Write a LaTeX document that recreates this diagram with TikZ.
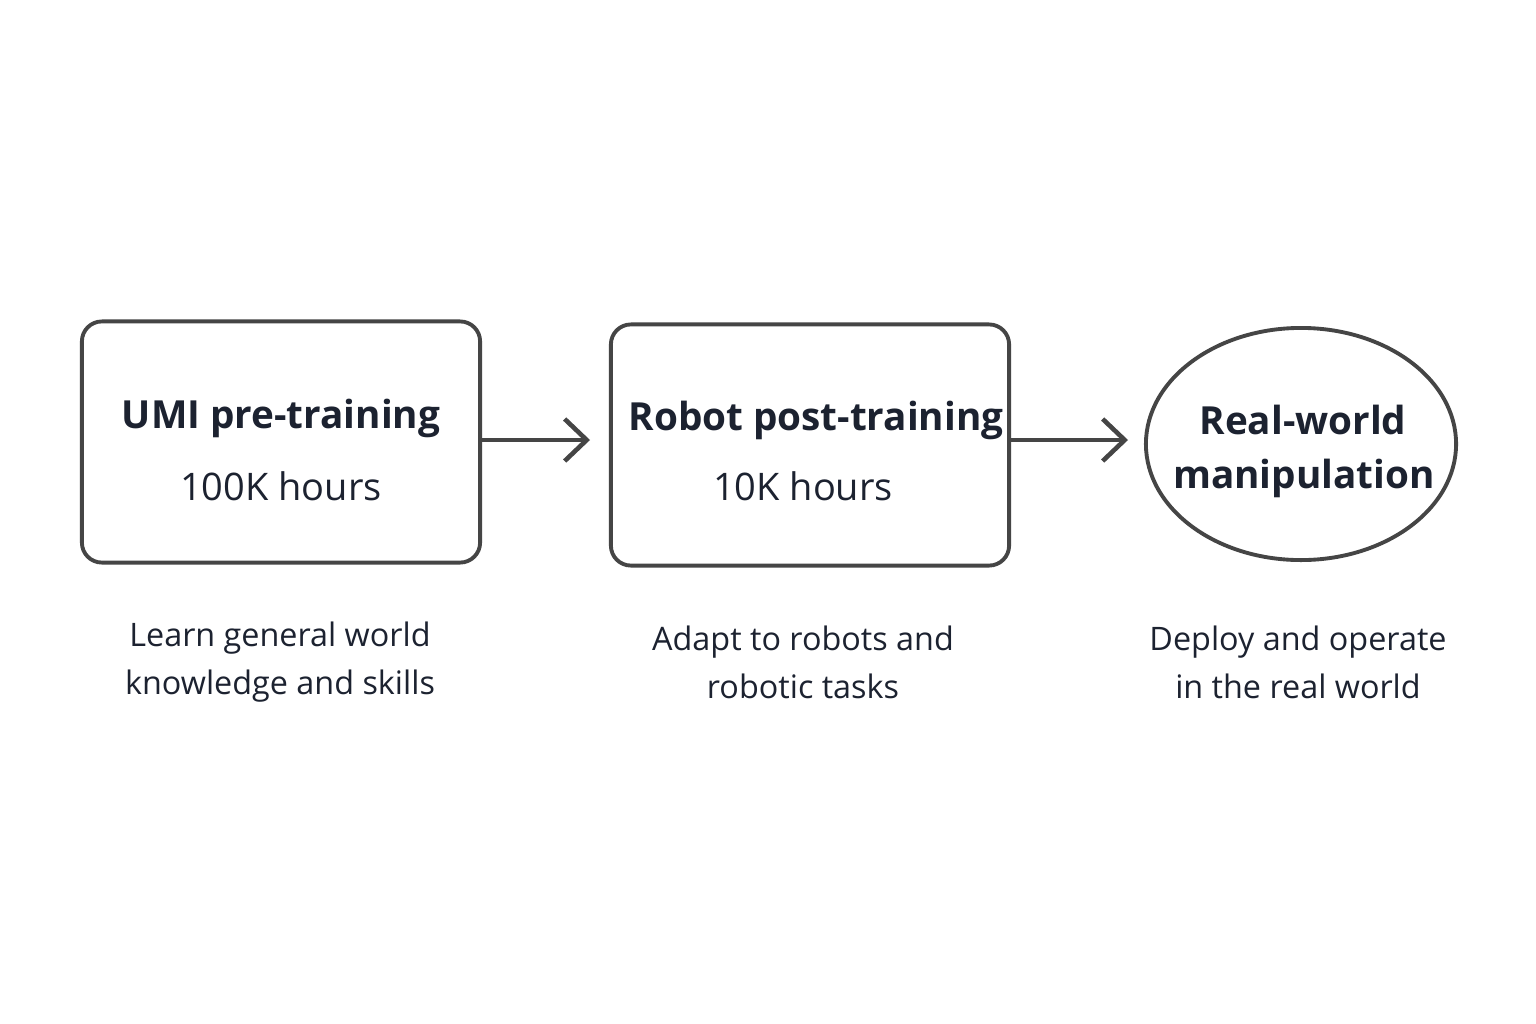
\documentclass[tikz,border=0pt]{standalone}
\usepackage{fontspec}
\setmainfont{Open Sans}
\usetikzlibrary{arrows.meta,shapes.geometric}
\definecolor{ink}{HTML}{1C2230}
\definecolor{ln}{HTML}{454545}
\tikzset{
  px/.style={x=0.01cm,y=-0.01cm},
  stagebox/.style={draw=ln,line width=1.1pt,rounded corners=0.2cm,minimum width=3.98cm,minimum height=2.41cm},
  goal/.style={draw=ln,line width=1.1pt,ellipse,minimum width=3.1cm,minimum height=2.32cm},
  ttl/.style={text=ink,font=\fontsize{11}{14}\selectfont\bfseries},
  sub/.style={text=ink,font=\fontsize{10.8}{14}\selectfont},
  desc/.style={text=ink,font=\fontsize{9.2}{13.6}\selectfont,align=center},
  flow/.style={draw=ln,line width=1.3pt,-{Straight Barb[length=0.22cm,width=0.42cm,line width=1.3pt]}}
}
\begin{document}
\begin{tikzpicture}[px]
\useasboundingbox[fill=white] (0,0) rectangle (1536,1024);
\node[stagebox] (b1) at (281,442) {};
\node[stagebox] (b2) at (810,445) {};
\node[goal] (b3) at (1301,444) {};
\node[ttl] (t1) at (281,418) {UMI pre-training};
\node[sub] (s1) at (281,486) {100K hours};
\node[ttl] (t2) at (816,420) {Robot post-training};
\node[sub] (s2) at (803,486) {10K hours};
\node[ttl] (t3) at (1303,420) {Real-world};
\node[ttl] (t4) at (1304,478) {manipulation};
\node[desc] (d1) at (280,662) {Learn general world\\knowledge and skills};
\node[desc] (d2) at (803,662) {Adapt to robots and\\robotic tasks};
\node[desc] (d3) at (1298,662) {Deploy and operate\\in the real world};
\draw[flow] (b1.east |- 0,440) -- (590,440) coordinate (a1);
\draw[flow] (b2.east |- 0,440) -- (1128,440) coordinate (a2);
\end{tikzpicture}
\end{document}
